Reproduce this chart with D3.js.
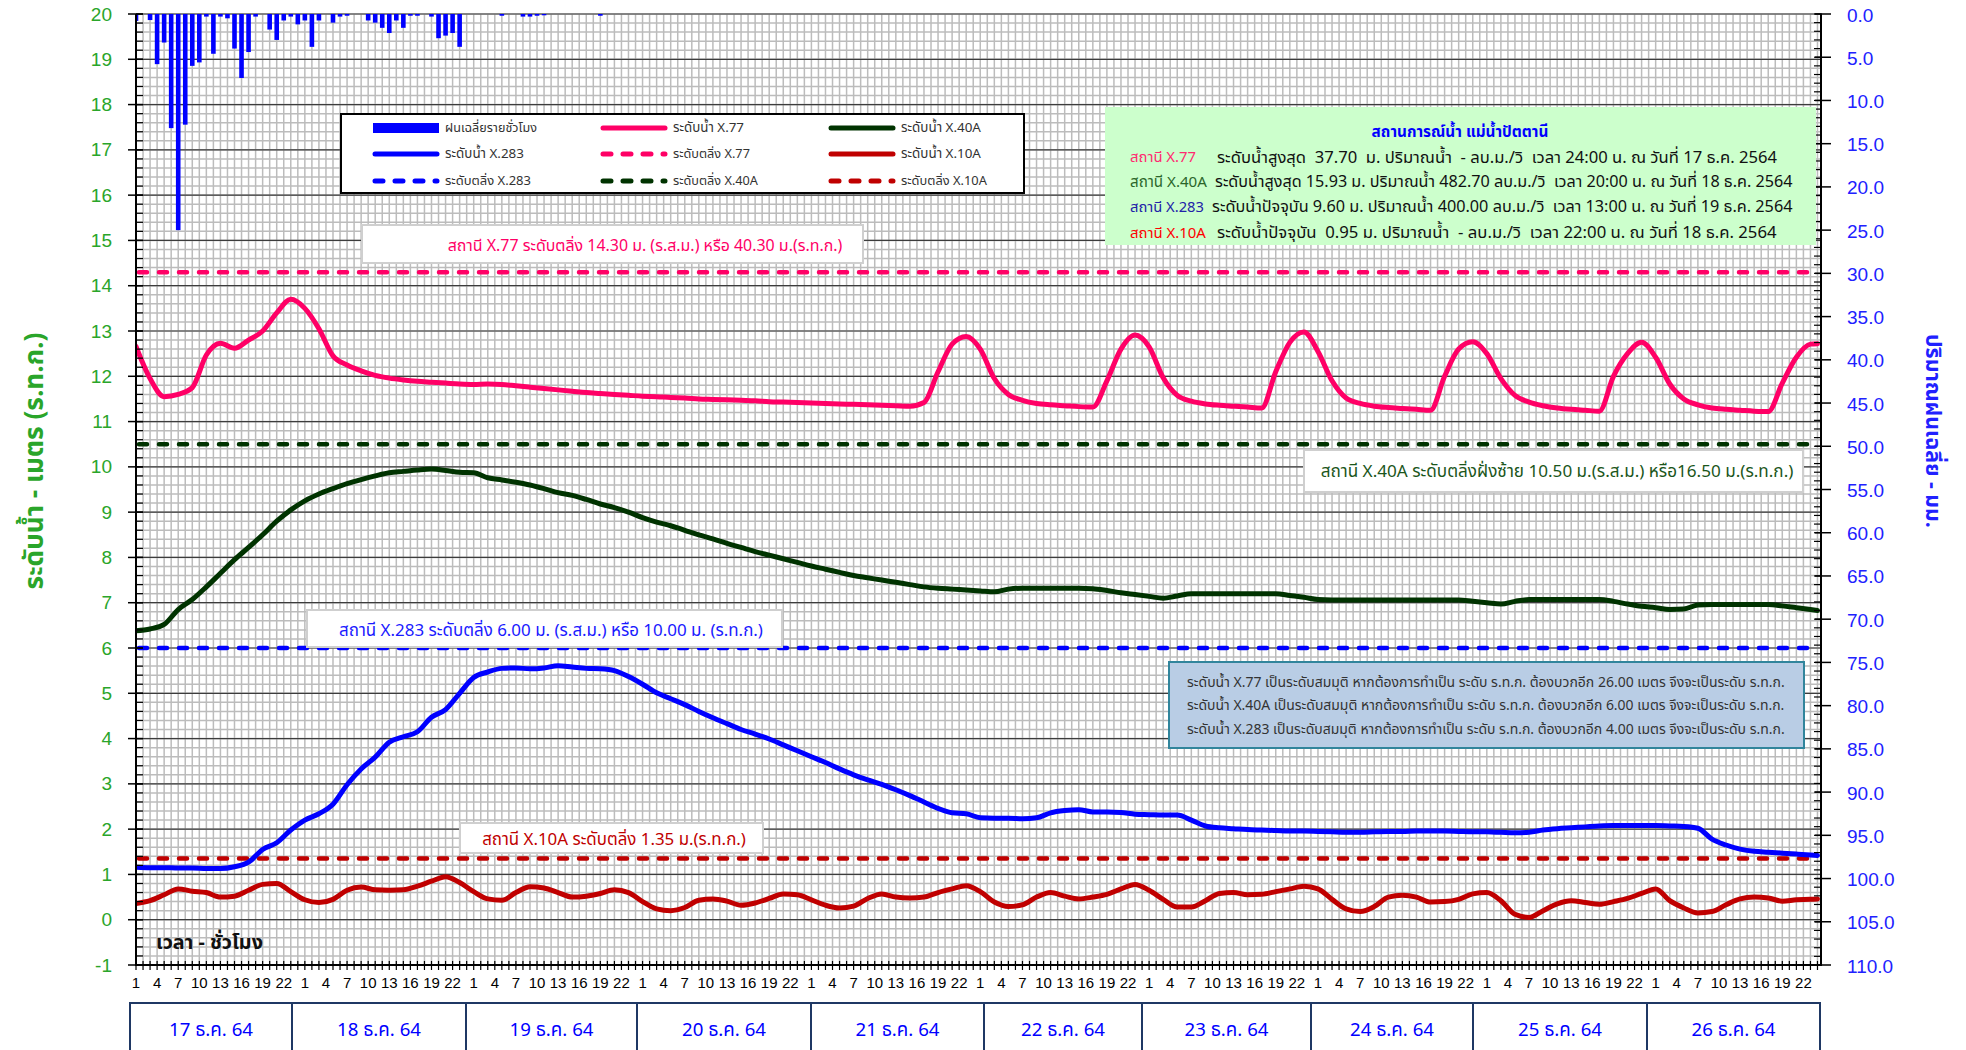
<!DOCTYPE html>
<html><head><meta charset="utf-8">
<script src="https://cdn.jsdelivr.net/npm/d3@7"></script>
<style>body{margin:0;background:#fff}svg{display:block}</style>
</head><body>
<script>
// ---------------- DATA ----------------
const hours = [0,2,4,6,8,10,12,14,16,18,20,22,24,26,28,30,32,34,36,38,40,42,44,46,48,50,52,54,56,58,60,62,64,66,68,70,72,74,76,78,80,82,84,86,88,90,92,94,96,98,100,102,104,106,108,110,112,114,116,118,120,122,124,126,128,130,132,134,136,138,140,142,144,146,148,150,152,154,156,158,160,162,164,166,168,170,172,174,176,178,180,182,184,186,188,190,192,194,196,198,200,202,204,206,208,210,212,214,216,218,220,222,224,226,228,230,232,234,236,238,239];
const levelX77 = [12.66,11.95,11.55,11.6,11.75,12.47,12.73,12.62,12.8,13.0,13.4,13.7,13.5,13.05,12.45,12.25,12.12,12.02,11.96,11.92,11.89,11.87,11.85,11.83,11.82,11.83,11.82,11.79,11.76,11.73,11.7,11.67,11.64,11.62,11.6,11.58,11.56,11.55,11.53,11.52,11.5,11.49,11.48,11.47,11.46,11.44,11.43,11.42,11.41,11.4,11.39,11.38,11.37,11.36,11.35,11.34,11.42,12.1,12.71,12.88,12.6,11.95,11.6,11.47,11.4,11.37,11.35,11.33,11.32,11.9,12.6,12.91,12.65,11.97,11.58,11.45,11.39,11.36,11.34,11.32,11.3,12.1,12.75,12.98,12.55,11.9,11.52,11.4,11.34,11.31,11.29,11.27,11.25,12.0,12.6,12.76,12.5,11.95,11.58,11.43,11.35,11.3,11.27,11.25,11.23,12.0,12.5,12.75,12.42,11.83,11.5,11.37,11.3,11.27,11.25,11.23,11.22,11.85,12.42,12.71,12.72];
const levelX40A = [6.38,6.42,6.52,6.85,7.07,7.35,7.65,7.95,8.22,8.5,8.8,9.05,9.25,9.4,9.52,9.63,9.72,9.8,9.87,9.9,9.93,9.95,9.92,9.88,9.87,9.76,9.71,9.66,9.6,9.52,9.43,9.37,9.28,9.18,9.1,9.0,8.88,8.78,8.7,8.6,8.5,8.41,8.31,8.22,8.13,8.05,7.97,7.89,7.81,7.74,7.67,7.6,7.55,7.5,7.45,7.4,7.35,7.32,7.3,7.28,7.26,7.24,7.3,7.32,7.32,7.32,7.32,7.32,7.31,7.27,7.22,7.18,7.14,7.1,7.15,7.2,7.2,7.2,7.2,7.2,7.2,7.2,7.16,7.12,7.07,7.06,7.06,7.06,7.06,7.06,7.06,7.06,7.06,7.06,7.06,7.03,7.0,6.97,7.03,7.07,7.07,7.07,7.07,7.07,7.07,7.03,6.97,6.92,6.89,6.85,6.86,6.95,6.96,6.96,6.96,6.96,6.96,6.93,6.89,6.85,6.83];
const levelX283 = [1.16,1.15,1.15,1.14,1.14,1.13,1.13,1.17,1.27,1.55,1.7,1.98,2.2,2.34,2.55,2.98,3.33,3.59,3.92,4.04,4.15,4.47,4.64,5.0,5.35,5.47,5.55,5.56,5.54,5.56,5.61,5.58,5.55,5.54,5.5,5.37,5.2,5.01,4.88,4.75,4.6,4.46,4.33,4.2,4.1,3.99,3.86,3.73,3.6,3.47,3.33,3.2,3.09,2.99,2.87,2.74,2.6,2.46,2.36,2.34,2.25,2.24,2.24,2.23,2.25,2.36,2.41,2.43,2.38,2.38,2.37,2.33,2.32,2.31,2.31,2.2,2.07,2.03,2.01,1.99,1.98,1.97,1.96,1.96,1.95,1.94,1.93,1.93,1.94,1.95,1.95,1.96,1.96,1.96,1.95,1.94,1.94,1.93,1.92,1.93,1.98,2.01,2.03,2.05,2.07,2.08,2.08,2.08,2.08,2.07,2.06,2.02,1.78,1.65,1.56,1.51,1.49,1.47,1.45,1.43,1.42];
const levelX10A = [0.36,0.42,0.55,0.68,0.63,0.6,0.5,0.52,0.65,0.78,0.8,0.62,0.44,0.38,0.45,0.65,0.72,0.66,0.65,0.66,0.74,0.85,0.95,0.82,0.62,0.46,0.43,0.6,0.73,0.7,0.6,0.5,0.52,0.58,0.66,0.6,0.4,0.24,0.2,0.27,0.43,0.46,0.41,0.32,0.37,0.47,0.57,0.55,0.44,0.32,0.26,0.3,0.47,0.57,0.5,0.48,0.5,0.6,0.68,0.75,0.62,0.39,0.29,0.33,0.5,0.6,0.52,0.46,0.5,0.56,0.68,0.78,0.65,0.45,0.28,0.28,0.42,0.58,0.6,0.55,0.56,0.62,0.68,0.74,0.68,0.45,0.24,0.18,0.29,0.5,0.54,0.5,0.39,0.4,0.45,0.57,0.6,0.42,0.12,0.05,0.2,0.35,0.42,0.38,0.34,0.4,0.47,0.58,0.68,0.42,0.26,0.15,0.18,0.33,0.46,0.5,0.48,0.41,0.44,0.45,0.46];
const rainHour = [0,2,3,4,5,6,7,8,9,10,11,12,13,14,15,16,17,19,20,21,22,23,24,25,26,28,29,30,33,34,35,36,37,38,39,40,42,43,44,45,46,52,55,56,57,58,66];
const rainMm = [0.8,0.7,5.8,3.3,13.2,25.0,12.8,6.0,5.6,0.3,4.6,0.3,0.5,4.0,7.4,4.4,0.3,1.8,3.0,0.75,0.3,1.2,0.75,3.8,0.75,1.0,0.3,0.2,0.75,1.0,1.6,2.2,0.75,1.6,0.2,0.2,0.3,2.8,2.5,2.2,3.8,0.2,0.3,0.3,0.2,0.15,0.2];
const bankLevels = {x77:14.30, x40A:10.50, x283:6.00, x10A:1.35};
const dayLabels = ["17 ธ.ค. 64","18 ธ.ค. 64","19 ธ.ค. 64","20 ธ.ค. 64","21 ธ.ค. 64","22 ธ.ค. 64","23 ธ.ค. 64","24 ธ.ค. 64","25 ธ.ค. 64","26 ธ.ค. 64"];
const hourTickLabels = ["1","4","7","10","13","16","19","22"];
const leftTicks = [-1,0,1,2,3,4,5,6,7,8,9,10,11,12,13,14,15,16,17,18,19,20];
const rightTicks = [0,5,10,15,20,25,30,35,40,45,50,55,60,65,70,75,80,85,90,95,100,105,110];

// ---------------- LAYOUT ----------------
const L=136, R=1821, T=14, B=965;
const dayBoxX = [130,292,466,637,811,984,1142,1311,1473,1647,1820];
const C = {pink:"#ff0066", green:"#003300", blue:"#0000ff", red:"#c00000"};
const THAI = "Tahoma,'Noto Sans Thai','Loma','Garuda','Noto Sans','DejaVu Sans',sans-serif";
const NUM = "'Liberation Sans',Arial,sans-serif";

const svg = d3.select("body").append("svg").attr("width",1966).attr("height",1050);
const x = d3.scaleLinear().domain([0,239.5]).range([L,R]);
const yL = d3.scaleLinear().domain([-1,20]).range([B,T]);
const yR = d3.scaleLinear().domain([0,110]).range([T,B]);

function fit(sel, w){ const n=sel.node(); const l=n.getComputedTextLength(); if(l>0){ const fs=parseFloat(sel.attr("font-size")); sel.attr("font-size", fs*w/l);} return sel; }

// grid
const g = svg.append("g");
const minorY = d3.range(-1, 20.001, 0.2);
g.selectAll(".hm").data(minorY).join("line").attr("x1",L).attr("x2",R)
  .attr("y1",d=>yL(d)).attr("y2",d=>yL(d)).attr("stroke","#bcbcbc").attr("stroke-width",1.5);
const hourIdx = d3.range(1,240);
g.selectAll(".vm").data(hourIdx).join("line").attr("x1",d=>x(d)).attr("x2",d=>x(d))
  .attr("y1",T).attr("y2",B).attr("stroke","#bcbcbc").attr("stroke-width",1.5);
g.selectAll(".hM").data(leftTicks).join("line").attr("x1",L).attr("x2",R)
  .attr("y1",d=>yL(d)).attr("y2",d=>yL(d)).attr("stroke","#3c3c3c").attr("stroke-width",1.2);

// clip
svg.append("clipPath").attr("id","pc").append("rect").attr("x",L).attr("y",T).attr("width",R-L).attr("height",B-T);

// rain bars
const bw = 4.6;
svg.append("g").attr("clip-path","url(#pc)").selectAll("rect").data(rainHour.map((h,i)=>({h,v:rainMm[i]})))
  .join("rect").attr("x",d=>x(d.h)-bw/2).attr("width",bw).attr("y",yR(0))
  .attr("height",d=>yR(d.v)-yR(0)).attr("fill",C.blue);

// thresholds
const thr = [[bankLevels.x77,C.pink],[bankLevels.x40A,C.green],[bankLevels.x283,C.blue],[bankLevels.x10A,C.red]];
svg.append("g").selectAll("line").data(thr).join("line").attr("x1",L+3).attr("x2",R-3)
  .attr("y1",d=>yL(d[0])).attr("y2",d=>yL(d[0])).attr("stroke",d=>d[1]).attr("stroke-width",4.5)
  .attr("stroke-dasharray","8 12").attr("stroke-linecap","round");

// series
const line = d3.line().x(d=>x(d[0])).y(d=>yL(d[1])).curve(d3.curveMonotoneX);
const series = [[levelX77,C.pink],[levelX40A,C.green],[levelX283,C.blue],[levelX10A,C.red]];
svg.append("g").attr("clip-path","url(#pc)").selectAll("path").data(series).join("path")
  .attr("d",d=>line(hours.map((h,i)=>[h,d[0][i]]))).attr("fill","none").attr("stroke",d=>d[1])
  .attr("stroke-width",5).attr("stroke-linejoin","round").attr("stroke-linecap","round");

// axes
const ax = svg.append("g").attr("stroke","#000");
ax.append("line").attr("x1",L).attr("x2",L).attr("y1",T).attr("y2",B+1).attr("stroke-width",2);
ax.append("line").attr("x1",R).attr("x2",R).attr("y1",T).attr("y2",B+1).attr("stroke-width",2);
ax.append("line").attr("x1",L).attr("x2",R).attr("y1",B).attr("y2",B).attr("stroke-width",2);
ax.selectAll(".lt").data(leftTicks).join("line").attr("x1",L-8).attr("x2",L+7).attr("y1",d=>yL(d)).attr("y2",d=>yL(d)).attr("stroke-width",1.5);
ax.selectAll(".lmt").data(minorY).join("line").attr("x1",L).attr("x2",L+7).attr("y1",d=>yL(d)).attr("y2",d=>yL(d)).attr("stroke-width",1.2);
ax.selectAll(".rt").data(rightTicks).join("line").attr("x1",R-6).attr("x2",R+10).attr("y1",d=>yR(d)).attr("y2",d=>yR(d)).attr("stroke-width",1.5);
ax.selectAll(".rmt").data(d3.range(0,110.001,1)).join("line").attr("x1",R-7).attr("x2",R+1).attr("y1",d=>yR(d)).attr("y2",d=>yR(d)).attr("stroke-width",1.2);
ax.selectAll(".bt").data(d3.range(0,240)).join("line").attr("x1",d=>x(d)).attr("x2",d=>x(d)).attr("y1",B-4).attr("y2",B+5).attr("stroke-width",1.2);

// tick labels
svg.append("g").selectAll("text").data(leftTicks).join("text").attr("x",112).attr("y",d=>yL(d))
  .attr("text-anchor","end").attr("dominant-baseline","central").attr("font-family",NUM).attr("font-size",19)
  .attr("fill","#2aa52a").text(d=>d);
svg.append("g").selectAll("text").data(rightTicks).join("text").attr("x",1847).attr("y",d=>yR(d)+1)
  .attr("dominant-baseline","central").attr("font-family",NUM).attr("font-size",19)
  .attr("fill","#2121ff").text(d=>d.toFixed(1));
const xl = d3.range(0,240).filter(i=>i%3===0);
svg.append("g").selectAll("text").data(xl).join("text").attr("x",d=>x(d)).attr("y",982)
  .attr("text-anchor","middle").attr("dominant-baseline","central")
  .attr("font-family","'Liberation Sans Narrow','Liberation Sans',sans-serif").attr("font-size",15)
  .attr("fill","#000").text(d=>hourTickLabels[(d%24)/3]);

// axis titles
fit(svg.append("text").attr("transform","translate(35,461) rotate(-90)").attr("text-anchor","middle")
  .attr("dominant-baseline","central").attr("font-family",THAI).attr("font-size",20).attr("font-weight","bold")
  .attr("fill","#2aa52a").text("ระดับน้ำ - เมตร (ร.ท.ก.)"),257);
fit(svg.append("text").attr("transform","translate(1932,431) rotate(90)").attr("text-anchor","middle")
  .attr("dominant-baseline","central").attr("font-family",THAI).attr("font-size",20).attr("font-weight","bold")
  .attr("fill","#2121ff").text("ปริมาณฝนเฉลี่ย - มม."),194);
fit(svg.append("text").attr("x",156).attr("y",943).attr("dominant-baseline","central").attr("font-family",THAI)
  .attr("font-size",16).attr("font-weight","bold").attr("fill","#111").text("เวลา - ชั่วโมง"),107);

// day boxes
const db = svg.append("g");
db.selectAll("rect").data(dayLabels).join("rect").attr("x",(d,i)=>dayBoxX[i]).attr("y",1003)
  .attr("width",(d,i)=>dayBoxX[i+1]-dayBoxX[i]).attr("height",60).attr("fill","#fff")
  .attr("stroke","#1f3864").attr("stroke-width",2);
db.selectAll("text").data(dayLabels).join("text").attr("x",(d,i)=>(dayBoxX[i]+dayBoxX[i+1])/2).attr("y",1030)
  .attr("text-anchor","middle").attr("dominant-baseline","central").attr("font-family",THAI).attr("font-size",17)
  .attr("fill","#0000ff").text(d=>d).each(function(){ fit(d3.select(this),84); });

// legend
const lg = svg.append("g");
lg.append("rect").attr("x",341).attr("y",114).attr("width",683).attr("height",79).attr("fill","#fff").attr("stroke","#000").attr("stroke-width",2);
const legItems = [
  {t:"ฝนเฉลี่ยรายชั่วโมง",c:C.blue,k:"bar",col:0,row:0,w:92},
  {t:"ระดับน้ำ X.283",c:C.blue,k:"line",col:0,row:1,w:79},
  {t:"ระดับตลิ่ง X.283",c:C.blue,k:"dash",col:0,row:2,w:86},
  {t:"ระดับน้ำ X.77",c:C.pink,k:"line",col:1,row:0,w:71},
  {t:"ระดับตลิ่ง X.77",c:C.pink,k:"dash",col:1,row:1,w:77},
  {t:"ระดับตลิ่ง X.40A",c:C.green,k:"dash",col:1,row:2,w:85},
  {t:"ระดับน้ำ X.40A",c:C.green,k:"line",col:2,row:0,w:80},
  {t:"ระดับน้ำ X.10A",c:C.red,k:"line",col:2,row:1,w:80},
  {t:"ระดับตลิ่ง X.10A",c:C.red,k:"dash",col:2,row:2,w:86}];
const colX=[373,601,829], rowY=[128,154,181];
legItems.forEach(it=>{
  const x0=colX[it.col], y0=rowY[it.row];
  if(it.k==="bar") lg.append("rect").attr("x",x0).attr("y",y0-5).attr("width",66).attr("height",10).attr("fill",it.c);
  else lg.append("line").attr("x1",x0+2).attr("x2",x0+64).attr("y1",y0).attr("y2",y0).attr("stroke",it.c)
    .attr("stroke-width",5).attr("stroke-linecap","round").attr("stroke-dasharray",it.k==="dash"?"8 12":null);
  fit(lg.append("text").attr("x",x0+72).attr("y",y0).attr("dominant-baseline","central").attr("font-family",THAI)
    .attr("font-size",13).attr("fill","#333").text(it.t), it.w);
});

// annotation boxes
function note(bx,by,bw,bh,cx,cy,tw,txt,col){
  svg.append("rect").attr("x",bx).attr("y",by).attr("width",bw).attr("height",bh).attr("fill","#fff").attr("stroke","#cfcfcf").attr("stroke-width",2);
  fit(svg.append("text").attr("x",cx).attr("y",cy).attr("text-anchor","middle").attr("dominant-baseline","central")
    .attr("font-family",THAI).attr("font-size",16).attr("fill",col).text(txt),tw);
}
note(362,225,501,38,645,246,395,"สถานี X.77 ระดับตลิ่ง 14.30 ม. (ร.ส.ม.) หรือ 40.30 ม.(ร.ท.ก.)",C.pink);
note(1304,450,499,42,1557,472,473,"สถานี X.40A ระดับตลิ่งฝั่งซ้าย 10.50 ม.(ร.ส.ม.) หรือ16.50 ม.(ร.ท.ก.)","#1b561b");
note(307,610,475,37,551,631,424,"สถานี X.283 ระดับตลิ่ง 6.00 ม. (ร.ส.ม.) หรือ 10.00 ม. (ร.ท.ก.)","#1a1aff");
note(460,823,303,30,614,840,264,"สถานี X.10A ระดับตลิ่ง 1.35 ม.(ร.ท.ก.)",C.red);

// info box
const ib = svg.append("g");
ib.append("rect").attr("x",1105).attr("y",107).attr("width",711).attr("height",138).attr("fill","#ccffcc");
fit(ib.append("text").attr("x",1460).attr("y",132).attr("text-anchor","middle").attr("dominant-baseline","central")
  .attr("font-family",THAI).attr("font-size",15).attr("font-weight","bold").attr("fill","#0000ff").text("สถานการณ์น้ำ แม่น้ำปัตตานี"),177);
const infoRows = [
  ["สถานี X.77","#ff2a70",66,"ระดับน้ำสูงสุด  37.70  ม. ปริมาณน้ำ  - ลบ.ม./วิ  เวลา 24:00 น. ณ วันที่ 17 ธ.ค. 2564",1217,560,157],
  ["สถานี X.40A","#2a662a",77,"ระดับน้ำสูงสุด 15.93 ม. ปริมาณน้ำ 482.70 ลบ.ม./วิ  เวลา 20:00 น. ณ วันที่ 18 ธ.ค. 2564",1215,578,182],
  ["สถานี X.283","#2222a8",74,"ระดับน้ำปัจจุบัน 9.60 ม. ปริมาณน้ำ 400.00 ลบ.ม./วิ  เวลา 13:00 น. ณ วันที่ 19 ธ.ค. 2564",1212,581,207],
  ["สถานี X.10A","#ff0000",76,"ระดับน้ำปัจจุบัน  0.95 ม. ปริมาณน้ำ  - ลบ.ม./วิ  เวลา 22:00 น. ณ วันที่ 18 ธ.ค. 2564",1217,560,233]];
infoRows.forEach(r=>{
  fit(ib.append("text").attr("x",r[4]).attr("y",r[6]).attr("dominant-baseline","central").attr("font-family",THAI)
    .attr("font-size",15).attr("fill","#111").style("white-space","pre").text(r[3]),r[5]);
  fit(ib.append("text").attr("x",1130).attr("y",r[6]).attr("dominant-baseline","central").attr("font-family",THAI)
    .attr("font-size",15).attr("fill",r[1]).text(r[0]),r[2]);
});

// note box
const nb = svg.append("g");
nb.append("rect").attr("x",1169).attr("y",662).attr("width",635).attr("height",86).attr("fill","#b9cde5").attr("stroke","#31859c").attr("stroke-width",2);
const noteLines = ["ระดับน้ำ X.77 เป็นระดับสมมุติ หากต้องการทำเป็น ระดับ ร.ท.ก. ต้องบวกอีก 26.00 เมตร จึงจะเป็นระดับ ร.ท.ก.",
  "ระดับน้ำ X.40A เป็นระดับสมมุติ หากต้องการทำเป็น ระดับ ร.ท.ก. ต้องบวกอีก 6.00 เมตร จึงจะเป็นระดับ ร.ท.ก.",
  "ระดับน้ำ X.283 เป็นระดับสมมุติ หากต้องการทำเป็น ระดับ ร.ท.ก. ต้องบวกอีก 4.00 เมตร จึงจะเป็นระดับ ร.ท.ก."];
noteLines.forEach((t,i)=>{
  fit(nb.append("text").attr("x",1187).attr("y",[682,705,729][i]).attr("dominant-baseline","central").attr("font-family",THAI)
    .attr("font-size",13).attr("fill","#333").text(t),598);
});
</script>
</body></html>
